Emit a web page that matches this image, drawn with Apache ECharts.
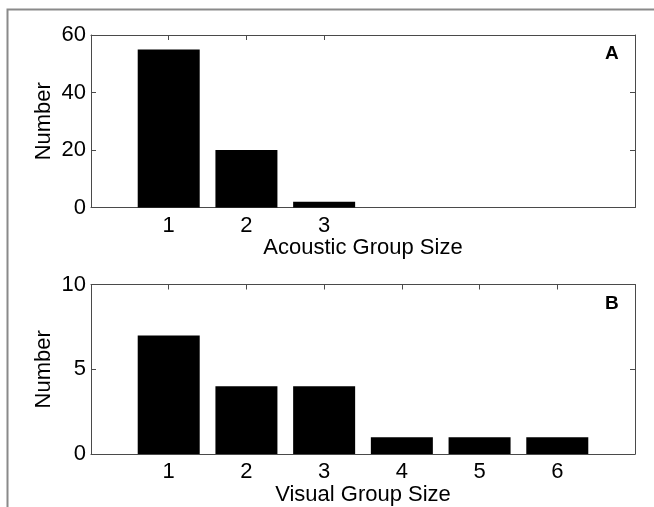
<!DOCTYPE html>
<html>
<head>
<meta charset="utf-8">
<script src="https://cdn.jsdelivr.net/npm/echarts@6/dist/echarts.min.js"></script>
<style>
html,body{margin:0;padding:0;background:#fff;}
#chart{width:654px;height:507px;}
</style>
</head>
<body>
<div id="chart"></div>
<script>
// ---- data ----
const acousticSizes = [1, 2, 3];
const acousticCounts = [55, 20, 2];
const visualSizes = [1, 2, 3, 4, 5, 6];
const visualCounts = [7, 4, 4, 1, 1, 1];
const acousticYTicks = [0, 20, 40, 60];
const visualYTicks = [0, 5, 10];
const xLimits = [0, 7];

const FONT = 'Liberation Sans, Arial, Helvetica, sans-serif';
const AXIS_COLOR = '#4a4a4a';

function pairs(xs, ys) { return xs.map((x, i) => [x, ys[i]]); }

function xAxisDef(gridIndex, position, ticks, showLabel, name, nameGap) {
  return {
    type: 'value', gridIndex: gridIndex, position: position,
    min: xLimits[0], max: xLimits[1], interval: 1,
    axisLine: { show: true, onZero: false, lineStyle: { color: AXIS_COLOR, width: 1 } },
    axisTick: { show: true, inside: true, length: 5, customValues: ticks, lineStyle: { color: AXIS_COLOR } },
    axisLabel: { show: showLabel, customValues: ticks, color: '#000', fontSize: 22, fontFamily: FONT, margin: 7 },
    splitLine: { show: false },
    name: name || '', nameLocation: 'middle', nameGap: nameGap || 0,
    nameTextStyle: { color: '#000', fontSize: 22, fontFamily: FONT }
  };
}
function yAxisDef(gridIndex, position, ticks, showLabel, name) {
  const max = ticks[ticks.length - 1];
  return {
    type: 'value', gridIndex: gridIndex, position: position,
    min: 0, max: max, interval: ticks[1] - ticks[0],
    axisLine: { show: true, onZero: false, lineStyle: { color: AXIS_COLOR, width: 1 } },
    axisTick: { show: true, inside: true, length: 5, customValues: ticks.slice(1, -1), lineStyle: { color: AXIS_COLOR } },
    axisLabel: { show: showLabel, color: '#000', fontSize: 22, fontFamily: FONT, margin: 5 },
    splitLine: { show: false },
    name: name || '', nameLocation: 'middle', nameGap: 36, nameMoveOverlap: false,
    nameTextStyle: { color: '#000', fontSize: 22, fontFamily: FONT }
  };
}

const chart = echarts.init(document.getElementById('chart'), null, { renderer: 'canvas' });
chart.setOption({
  animation: false,
  backgroundColor: '#fff',
  grid: [
    { left: 91, right: 19, top: 35, height: 172.5 },
    { left: 91, right: 19, top: 284.5, height: 172.5 }
  ],
  xAxis: [
    xAxisDef(0, 'bottom', acousticSizes, true, 'Acoustic Group Size', 26),
    xAxisDef(0, 'top', acousticSizes, false),
    xAxisDef(1, 'bottom', visualSizes, true, 'Visual Group Size', 28),
    xAxisDef(1, 'top', visualSizes, false)
  ],
  yAxis: [
    yAxisDef(0, 'left', acousticYTicks, true, 'Number'),
    yAxisDef(0, 'right', acousticYTicks, false),
    yAxisDef(1, 'left', visualYTicks, true, 'Number'),
    yAxisDef(1, 'right', visualYTicks, false)
  ],
  series: [
    { type: 'bar', xAxisIndex: 0, yAxisIndex: 0, data: pairs(acousticSizes, acousticCounts),
      barWidth: 62, itemStyle: { color: '#000' }, silent: true },
    { type: 'bar', xAxisIndex: 2, yAxisIndex: 2, data: pairs(visualSizes, visualCounts),
      barWidth: 62, itemStyle: { color: '#000' }, silent: true }
  ],
  graphic: [
    { type: 'rect', shape: { x: 7.5, y: 9.5, width: 800, height: 800 },
      style: { fill: 'none', stroke: '#8a8a8a', lineWidth: 2 }, silent: true },
    { type: 'text', left: 605, top: 44, style: { text: 'A', fontSize: 19, fontWeight: 'bold', fontFamily: FONT, fill: '#000' } },
    { type: 'text', left: 605, top: 294, style: { text: 'B', fontSize: 19, fontWeight: 'bold', fontFamily: FONT, fill: '#000' } }
  ]
});
</script>
</body>
</html>
